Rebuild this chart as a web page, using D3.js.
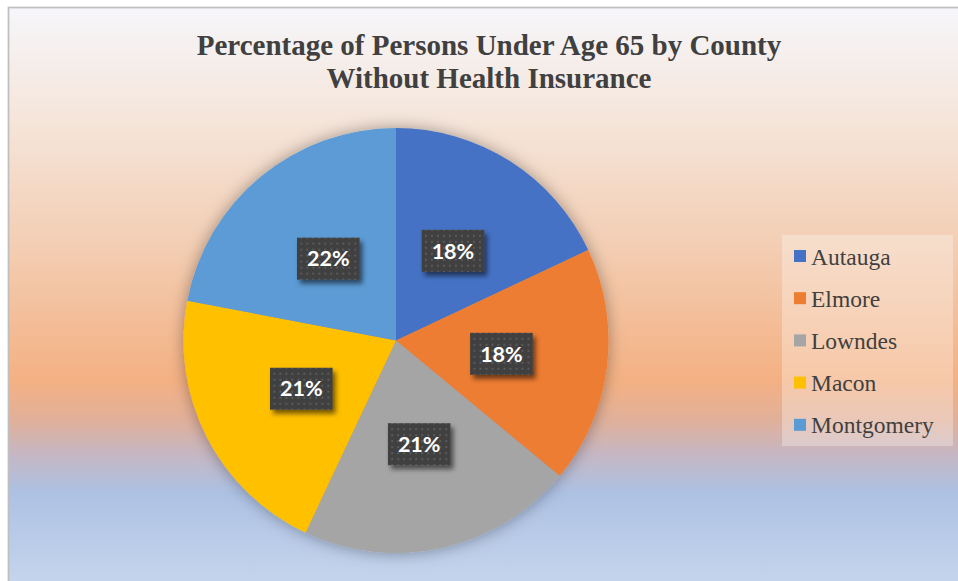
<!DOCTYPE html>
<html>
<head>
<meta charset="utf-8">
<script src="https://cdn.jsdelivr.net/npm/d3@7"></script>
<style>
  html, body { margin: 0; padding: 0; background: #ffffff; }
  svg { display: block; }
</style>
</head>
<body>
<svg id="chart" width="958" height="581"></svg>
<script>
// Share of uninsured persons under 65, by county
const counties = ["Autauga", "Elmore", "Lowndes", "Macon", "Montgomery"];
const shares = [18, 18, 21, 21, 22];
const sliceColors = ["#4472c4", "#ed7d31", "#a5a5a5", "#ffc000", "#5b9bd5"];
const titleLines = ["Percentage of Persons Under Age 65 by County", "Without Health Insurance"];

const W = 958, H = 581;
const svg = d3.select("#chart");
const defs = svg.append("defs");

// Chart-area background: pale top, peach band, blue base
const bg = defs.append("linearGradient")
  .attr("id", "bgGrad")
  .attr("gradientUnits", "userSpaceOnUse")
  .attr("x1", 0).attr("y1", 8).attr("x2", 0).attr("y2", H);
[
  [8, "#f6f6fa"], [120, "#f5e5da"], [250, "#f3cdb2"], [380, "#f4b183"],
  [420, "#e1b09a"], [455, "#c5b7c4"], [492, "#adc1e3"], [581, "#c4d4ec"]
].forEach(([y, c]) => bg.append("stop").attr("offset", (y - 8) / (H - 8)).attr("stop-color", c));

// Dotted fill for the value badges
const pat = defs.append("pattern")
  .attr("id", "dots").attr("patternUnits", "userSpaceOnUse")
  .attr("width", 6).attr("height", 6);
pat.append("rect").attr("width", 6).attr("height", 6).attr("fill", "#404040");
pat.append("rect").attr("x", 2).attr("y", 2).attr("width", 2).attr("height", 2).attr("fill", "#5a5a5a");

const pieShadow = defs.append("filter").attr("id", "pieShadow")
  .attr("x", "-20%").attr("y", "-20%").attr("width", "140%").attr("height", "140%");
pieShadow.append("feDropShadow").attr("dx", 0).attr("dy", 0)
  .attr("stdDeviation", 8).attr("flood-color", "#000").attr("flood-opacity", 0.35);

const badgeShadow = defs.append("filter").attr("id", "badgeShadow")
  .attr("x", "-30%").attr("y", "-30%").attr("width", "170%").attr("height", "170%");
badgeShadow.append("feDropShadow").attr("dx", 3).attr("dy", 4)
  .attr("stdDeviation", 2.5).attr("flood-color", "#000").attr("flood-opacity", 0.55);

// Chart area with its outline
svg.append("rect")
  .attr("x", 8.5).attr("y", 7.5).attr("width", W + 10).attr("height", H + 10)
  .attr("fill", "url(#bgGrad)").attr("stroke", "#bfbfbf").attr("stroke-width", 1.75);

// Title
const title = svg.append("text")
  .attr("text-anchor", "middle")
  .attr("font-family", "'Liberation Serif', 'Times New Roman', serif")
  .attr("font-weight", "bold").attr("font-size", 29)
  .attr("fill", "#404040");
titleLines.forEach((t, i) => {
  title.append("tspan").attr("x", 489).attr("y", 55 + i * 33).text(t);
});

// Pie
const cx = 396, cy = 340.5, r = 212.5;
const pie = d3.pie().sort(null).value(d => d.value).startAngle(0).endAngle(2 * Math.PI);
const data = counties.map((c, i) => ({ name: c, value: shares[i], color: sliceColors[i] }));
const arcs = pie(data);
const arc = d3.arc().innerRadius(0).outerRadius(r);
const labelArc = d3.arc().innerRadius(0).outerRadius(r);

const g = svg.append("g").attr("transform", `translate(${cx},${cy})`);
g.append("g").attr("filter", "url(#pieShadow)")
  .selectAll("path").data(arcs).join("path")
  .attr("d", arc)
  .attr("fill", d => d.data.color);

// Value badges
const badges = g.selectAll("g.badge").data(arcs).join("g")
  .attr("class", "badge")
  .attr("transform", d => {
    const [x, y] = labelArc.centroid(d);
    return `translate(${x},${y})`;
  });
const badgeRects = badges.append("rect")
  .attr("fill", "url(#dots)")
  .attr("filter", "url(#badgeShadow)");
const badgeText = badges.append("text")
  .attr("text-anchor", "middle")
  .attr("dy", "0.36em")
  .attr("font-family", "Lato, 'Open Sans', sans-serif")
  .attr("font-weight", "bold").attr("font-size", 21.5)
  .attr("fill", "#ffffff")
  .text(d => d.data.value + "%");
badgeText.each(function () {
  const w = this.getBBox().width;
  d3.select(this.parentNode).select("rect")
    .attr("x", -(w / 2 + 10)).attr("y", -21)
    .attr("width", w + 20).attr("height", 42);
});

// Legend
const legend = svg.append("g").attr("transform", "translate(782,235)");
legend.append("rect")
  .attr("width", 171).attr("height", 211)
  .attr("fill", "#ffffff").attr("fill-opacity", 0.3);
const rows = legend.selectAll("g.row").data(data).join("g")
  .attr("class", "row")
  .attr("transform", (d, i) => `translate(0,${21 + i * 42.2})`);
rows.append("rect")
  .attr("x", 12).attr("y", -6).attr("width", 12).attr("height", 12)
  .attr("fill", d => d.color);
rows.append("text")
  .attr("x", 29).attr("y", 8.5)
  .attr("font-family", "'Liberation Serif', 'Times New Roman', serif")
  .attr("font-size", 23.5).attr("fill", "#404040")
  .text(d => d.name);
</script>
</body>
</html>
